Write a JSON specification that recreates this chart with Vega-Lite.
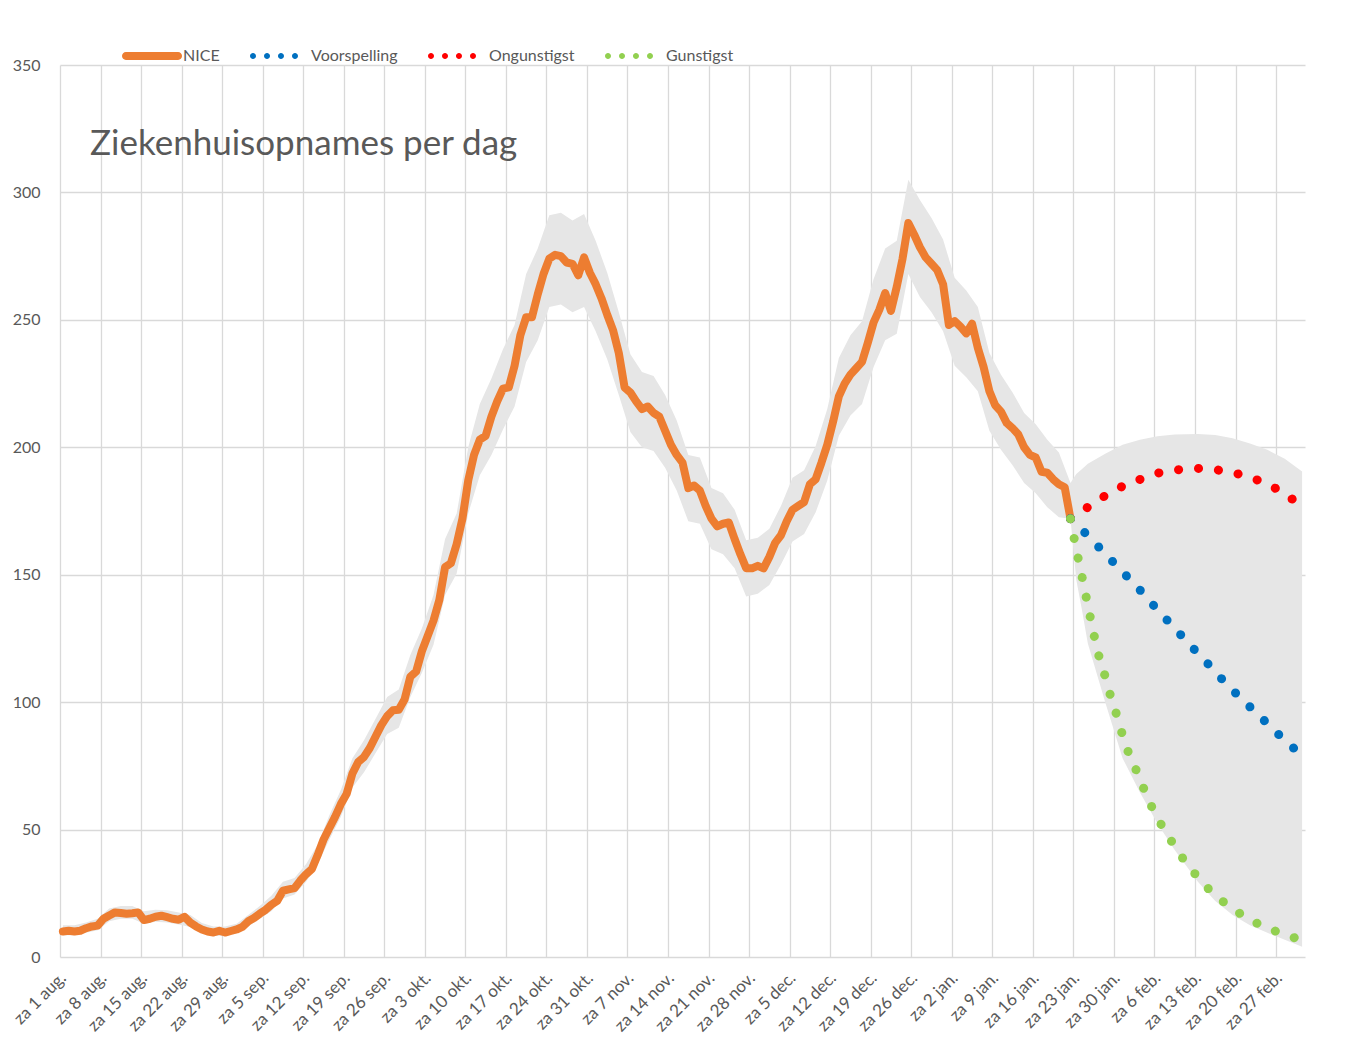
{
  "$schema": "https://vega.github.io/schema/vega-lite/v6.json",
  "width": 1245,
  "height": 892,
  "autosize": {"type": "none"},
  "padding": {"left": 60, "top": 65, "right": 47, "bottom": 95},
  "background": "white",
  "config": {
    "font": "Lato",
    "view": {"stroke": null},
    "axis": {"domain": false, "ticks": false, "gridColor": "#D9D9D9", "gridWidth": 1.3, "labelColor": "#595959", "labelFont": "Lato", "labelFontSize": 16}
  },
  "title": {"text": "Ziekenhuisopnames per dag", "anchor": "start", "frame": "group", "orient": "top", "font": "Lato", "fontSize": 35, "fontWeight": "normal", "color": "#595959", "dx": 30, "dy": 164, "offset": 0, "baseline": "alphabetic"},
  "datasets": {
    "nice": [
      {"date":"2020-08-01","value":10},{"date":"2020-08-02","value":10.3},{"date":"2020-08-03","value":10},{"date":"2020-08-04","value":10.3},{"date":"2020-08-05","value":11.3},{"date":"2020-08-06","value":12},{"date":"2020-08-07","value":12.3},{"date":"2020-08-08","value":15},{"date":"2020-08-09","value":16.3},{"date":"2020-08-10","value":17.5},{"date":"2020-08-11","value":17.3},{"date":"2020-08-12","value":17},{"date":"2020-08-13","value":17.2},{"date":"2020-08-14","value":17.5},{"date":"2020-08-15","value":14.5},{"date":"2020-08-16","value":15},{"date":"2020-08-17","value":15.8},{"date":"2020-08-18","value":16.2},{"date":"2020-08-19","value":15.6},{"date":"2020-08-20","value":15},{"date":"2020-08-21","value":14.6},{"date":"2020-08-22","value":15.8},{"date":"2020-08-23","value":13.5},{"date":"2020-08-24","value":12},{"date":"2020-08-25","value":10.8},{"date":"2020-08-26","value":10},{"date":"2020-08-27","value":9.6},{"date":"2020-08-28","value":10.3},{"date":"2020-08-29","value":9.6},{"date":"2020-08-30","value":10.2},{"date":"2020-08-31","value":10.8},
      {"date":"2020-09-01","value":11.8},{"date":"2020-09-02","value":14},{"date":"2020-09-03","value":15.3},{"date":"2020-09-04","value":17},{"date":"2020-09-05","value":18.5},{"date":"2020-09-06","value":20.5},{"date":"2020-09-07","value":22},{"date":"2020-09-08","value":26},{"date":"2020-09-09","value":26.5},{"date":"2020-09-10","value":27},{"date":"2020-09-11","value":30},{"date":"2020-09-12","value":32.5},{"date":"2020-09-13","value":34.5},{"date":"2020-09-14","value":40},{"date":"2020-09-15","value":46},{"date":"2020-09-16","value":50.5},{"date":"2020-09-17","value":55},{"date":"2020-09-18","value":60},{"date":"2020-09-19","value":64},{"date":"2020-09-20","value":72},{"date":"2020-09-21","value":76.5},{"date":"2020-09-22","value":78.5},{"date":"2020-09-23","value":82},{"date":"2020-09-24","value":86.5},{"date":"2020-09-25","value":91},{"date":"2020-09-26","value":94.5},{"date":"2020-09-27","value":96.8},{"date":"2020-09-28","value":97},{"date":"2020-09-29","value":101},{"date":"2020-09-30","value":110},
      {"date":"2020-10-01","value":112},{"date":"2020-10-02","value":120},{"date":"2020-10-03","value":126},{"date":"2020-10-04","value":132},{"date":"2020-10-05","value":140},{"date":"2020-10-06","value":153},{"date":"2020-10-07","value":154.5},{"date":"2020-10-08","value":162},{"date":"2020-10-09","value":172},{"date":"2020-10-10","value":187},{"date":"2020-10-11","value":197},{"date":"2020-10-12","value":203},{"date":"2020-10-13","value":204.5},{"date":"2020-10-14","value":212},{"date":"2020-10-15","value":218},{"date":"2020-10-16","value":223},{"date":"2020-10-17","value":223.5},{"date":"2020-10-18","value":232},{"date":"2020-10-19","value":244},{"date":"2020-10-20","value":251},{"date":"2020-10-21","value":251},{"date":"2020-10-22","value":260},{"date":"2020-10-23","value":268},{"date":"2020-10-24","value":274},{"date":"2020-10-25","value":275.5},{"date":"2020-10-26","value":275},{"date":"2020-10-27","value":272.5},{"date":"2020-10-28","value":272},{"date":"2020-10-29","value":267.5},{"date":"2020-10-30","value":274.5},{"date":"2020-10-31","value":268.5},
      {"date":"2020-11-01","value":264},{"date":"2020-11-02","value":258.5},{"date":"2020-11-03","value":252},{"date":"2020-11-04","value":246},{"date":"2020-11-05","value":237},{"date":"2020-11-06","value":223.5},{"date":"2020-11-07","value":221.5},{"date":"2020-11-08","value":218},{"date":"2020-11-09","value":215},{"date":"2020-11-10","value":216},{"date":"2020-11-11","value":213.5},{"date":"2020-11-12","value":212},{"date":"2020-11-13","value":206.5},{"date":"2020-11-14","value":201},{"date":"2020-11-15","value":197},{"date":"2020-11-16","value":194},{"date":"2020-11-17","value":184},{"date":"2020-11-18","value":185},{"date":"2020-11-19","value":183},{"date":"2020-11-20","value":177},{"date":"2020-11-21","value":172},{"date":"2020-11-22","value":169},{"date":"2020-11-23","value":170},{"date":"2020-11-24","value":170.5},{"date":"2020-11-25","value":164},{"date":"2020-11-26","value":158},{"date":"2020-11-27","value":152.5},{"date":"2020-11-28","value":152.5},{"date":"2020-11-29","value":153.5},{"date":"2020-11-30","value":152.5},
      {"date":"2020-12-01","value":157},{"date":"2020-12-02","value":162.5},{"date":"2020-12-03","value":165.5},{"date":"2020-12-04","value":171},{"date":"2020-12-05","value":175.5},{"date":"2020-12-06","value":177},{"date":"2020-12-07","value":178.5},{"date":"2020-12-08","value":185.5},{"date":"2020-12-09","value":187.5},{"date":"2020-12-10","value":194},{"date":"2020-12-11","value":201},{"date":"2020-12-12","value":210},{"date":"2020-12-13","value":220},{"date":"2020-12-14","value":225},{"date":"2020-12-15","value":228.5},{"date":"2020-12-16","value":231},{"date":"2020-12-17","value":233.5},{"date":"2020-12-18","value":241},{"date":"2020-12-19","value":249},{"date":"2020-12-20","value":254},{"date":"2020-12-21","value":260.5},{"date":"2020-12-22","value":253.5},{"date":"2020-12-23","value":263},{"date":"2020-12-24","value":274},{"date":"2020-12-25","value":288},{"date":"2020-12-26","value":283.5},{"date":"2020-12-27","value":278.5},{"date":"2020-12-28","value":274.5},{"date":"2020-12-29","value":272},{"date":"2020-12-30","value":269.5},{"date":"2020-12-31","value":264},
      {"date":"2021-01-01","value":248},{"date":"2021-01-02","value":249.5},{"date":"2021-01-03","value":247.3},{"date":"2021-01-04","value":244.7},{"date":"2021-01-05","value":248.5},{"date":"2021-01-06","value":239},{"date":"2021-01-07","value":231.5},{"date":"2021-01-08","value":222},{"date":"2021-01-09","value":216.5},{"date":"2021-01-10","value":214},{"date":"2021-01-11","value":209.5},{"date":"2021-01-12","value":207.5},{"date":"2021-01-13","value":205},{"date":"2021-01-14","value":200},{"date":"2021-01-15","value":197},{"date":"2021-01-16","value":196},{"date":"2021-01-17","value":190.4},{"date":"2021-01-18","value":190},{"date":"2021-01-19","value":187.5},{"date":"2021-01-20","value":185.5},{"date":"2021-01-21","value":184.3},{"date":"2021-01-22","value":172}
    ],
    "band": [
      {"date":"2020-08-01","lo":8.5,"hi":12.5},{"date":"2020-08-03","lo":8.5,"hi":12.5},{"date":"2020-08-05","lo":9.5,"hi":13.5},{"date":"2020-08-07","lo":10.5,"hi":15},{"date":"2020-08-09","lo":14,"hi":19},{"date":"2020-08-11","lo":15,"hi":20},{"date":"2020-08-13","lo":15,"hi":20},{"date":"2020-08-15","lo":13,"hi":18},{"date":"2020-08-17","lo":13.8,"hi":18.5},{"date":"2020-08-19","lo":13.5,"hi":18.3},{"date":"2020-08-21","lo":12.8,"hi":17.5},{"date":"2020-08-23","lo":11.8,"hi":16.5},{"date":"2020-08-25","lo":9.3,"hi":13.3},{"date":"2020-08-27","lo":8.2,"hi":12},{"date":"2020-08-29","lo":8.2,"hi":12},{"date":"2020-08-31","lo":9.2,"hi":13},
      {"date":"2020-09-02","lo":12,"hi":16.5},{"date":"2020-09-04","lo":15,"hi":20},{"date":"2020-09-06","lo":18,"hi":24},{"date":"2020-09-08","lo":23,"hi":29.5},{"date":"2020-09-10","lo":24.5,"hi":31},{"date":"2020-09-12","lo":29.5,"hi":36.5},{"date":"2020-09-14","lo":36.5,"hi":44},{"date":"2020-09-16","lo":46,"hi":55.5},{"date":"2020-09-18","lo":55,"hi":65.5},{"date":"2020-09-20","lo":66.5,"hi":78},{"date":"2020-09-22","lo":72.5,"hi":85},{"date":"2020-09-24","lo":80,"hi":93.5},{"date":"2020-09-26","lo":87.5,"hi":102},{"date":"2020-09-28","lo":90,"hi":105},{"date":"2020-09-30","lo":102,"hi":118.5},
      {"date":"2020-10-02","lo":111.5,"hi":129},{"date":"2020-10-04","lo":122.5,"hi":142},{"date":"2020-10-06","lo":142,"hi":164},{"date":"2020-10-08","lo":150.5,"hi":174},{"date":"2020-10-10","lo":174,"hi":200},{"date":"2020-10-12","lo":189,"hi":217},{"date":"2020-10-14","lo":197,"hi":227},{"date":"2020-10-16","lo":207,"hi":238.5},{"date":"2020-10-18","lo":216,"hi":248},{"date":"2020-10-20","lo":233.5,"hi":268},{"date":"2020-10-22","lo":242,"hi":278},{"date":"2020-10-24","lo":255,"hi":291},{"date":"2020-10-26","lo":256,"hi":292},{"date":"2020-10-28","lo":253,"hi":289},{"date":"2020-10-30","lo":255,"hi":291.5},
      {"date":"2020-11-01","lo":245.5,"hi":281},{"date":"2020-11-03","lo":234.5,"hi":268.5},{"date":"2020-11-05","lo":220.5,"hi":253},{"date":"2020-11-07","lo":206,"hi":236.5},{"date":"2020-11-09","lo":200,"hi":229.5},{"date":"2020-11-11","lo":198.5,"hi":228},{"date":"2020-11-13","lo":192,"hi":220.5},{"date":"2020-11-15","lo":183,"hi":210.5},{"date":"2020-11-17","lo":171,"hi":197},{"date":"2020-11-19","lo":170,"hi":196},{"date":"2020-11-21","lo":160,"hi":184},{"date":"2020-11-23","lo":158,"hi":182},{"date":"2020-11-25","lo":152.5,"hi":175.5},{"date":"2020-11-27","lo":141.5,"hi":163.5},{"date":"2020-11-29","lo":142.5,"hi":164.5},
      {"date":"2020-12-01","lo":146,"hi":168},{"date":"2020-12-03","lo":154,"hi":177},{"date":"2020-12-05","lo":163,"hi":188},{"date":"2020-12-07","lo":166,"hi":191},{"date":"2020-12-09","lo":174.5,"hi":200.5},{"date":"2020-12-11","lo":187,"hi":215},{"date":"2020-12-13","lo":204.5,"hi":235},{"date":"2020-12-15","lo":212.5,"hi":244},{"date":"2020-12-17","lo":217,"hi":249.5},{"date":"2020-12-19","lo":231.5,"hi":266},{"date":"2020-12-21","lo":242,"hi":278},{"date":"2020-12-23","lo":244.5,"hi":281},{"date":"2020-12-25","lo":268,"hi":305},{"date":"2020-12-27","lo":259,"hi":297},{"date":"2020-12-29","lo":253,"hi":290},{"date":"2020-12-31","lo":245.5,"hi":281.5},
      {"date":"2021-01-02","lo":232,"hi":266.5},{"date":"2021-01-04","lo":227.5,"hi":261.5},{"date":"2021-01-06","lo":222,"hi":255},{"date":"2021-01-08","lo":206.5,"hi":237},{"date":"2021-01-10","lo":199,"hi":228.5},{"date":"2021-01-12","lo":193,"hi":221.5},{"date":"2021-01-14","lo":186,"hi":213.5},{"date":"2021-01-16","lo":182,"hi":209},{"date":"2021-01-18","lo":176.5,"hi":203},{"date":"2021-01-20","lo":172.5,"hi":198},{"date":"2021-01-22","lo":172,"hi":186},{"date":"2021-01-23","lo":148,"hi":189.5},{"date":"2021-01-24","lo":136,"hi":191.5},{"date":"2021-01-25","lo":123,"hi":193.5},{"date":"2021-01-28","lo":100,"hi":197.5},{"date":"2021-01-31","lo":78,"hi":201},
      {"date":"2021-02-03","lo":64.5,"hi":203},{"date":"2021-02-06","lo":52.5,"hi":204.3},{"date":"2021-02-09","lo":42,"hi":205},{"date":"2021-02-13","lo":29.5,"hi":205.2},{"date":"2021-02-16","lo":22,"hi":204.8},{"date":"2021-02-19","lo":16.5,"hi":203.5},{"date":"2021-02-22","lo":12.5,"hi":201.5},{"date":"2021-02-25","lo":9.5,"hi":199},{"date":"2021-02-28","lo":6.8,"hi":195.5},{"date":"2021-03-03","lo":4,"hi":190.5}
    ],
    "fc": [
      {"date":"2021-01-22","serie":"Ongunstigst","value":172},{"date":"2021-01-25","serie":"Ongunstigst","value":176.5},{"date":"2021-01-28","serie":"Ongunstigst","value":181},{"date":"2021-01-31","serie":"Ongunstigst","value":184.7},{"date":"2021-02-03","serie":"Ongunstigst","value":187.4},{"date":"2021-02-06","serie":"Ongunstigst","value":189.8},{"date":"2021-02-09","serie":"Ongunstigst","value":191},{"date":"2021-02-13","serie":"Ongunstigst","value":191.7},{"date":"2021-02-16","serie":"Ongunstigst","value":191.2},{"date":"2021-02-20","serie":"Ongunstigst","value":189.5},{"date":"2021-02-23","serie":"Ongunstigst","value":187.4},{"date":"2021-02-26","serie":"Ongunstigst","value":184.4},{"date":"2021-03-01","serie":"Ongunstigst","value":180.1},{"date":"2021-03-03","serie":"Ongunstigst","value":177},
      {"date":"2021-01-22","serie":"Voorspelling","value":172},{"date":"2021-01-25","serie":"Voorspelling","value":165.3},{"date":"2021-01-28","serie":"Voorspelling","value":158.2},{"date":"2021-01-31","serie":"Voorspelling","value":151.1},{"date":"2021-02-03","serie":"Voorspelling","value":144},{"date":"2021-02-06","serie":"Voorspelling","value":136.3},{"date":"2021-02-09","serie":"Voorspelling","value":129},{"date":"2021-02-12","serie":"Voorspelling","value":121.6},{"date":"2021-02-15","serie":"Voorspelling","value":114.4},{"date":"2021-02-18","serie":"Voorspelling","value":107},{"date":"2021-02-21","serie":"Voorspelling","value":100.3},{"date":"2021-02-24","serie":"Voorspelling","value":93.8},{"date":"2021-02-27","serie":"Voorspelling","value":87.2},{"date":"2021-03-03","serie":"Voorspelling","value":79},
      {"date":"2021-01-22","serie":"Gunstigst","value":172},{"date":"2021-01-23","serie":"Gunstigst","value":160},{"date":"2021-01-24","serie":"Gunstigst","value":149.2},{"date":"2021-01-25","serie":"Gunstigst","value":138},{"date":"2021-01-26","serie":"Gunstigst","value":127},{"date":"2021-01-27","serie":"Gunstigst","value":117.3},{"date":"2021-01-28","serie":"Gunstigst","value":110},{"date":"2021-01-29","serie":"Gunstigst","value":101.8},{"date":"2021-01-30","serie":"Gunstigst","value":94.8},{"date":"2021-01-31","serie":"Gunstigst","value":87},{"date":"2021-02-01","serie":"Gunstigst","value":80.3},{"date":"2021-02-02","serie":"Gunstigst","value":75.2},{"date":"2021-02-03","serie":"Gunstigst","value":69.7},{"date":"2021-02-04","serie":"Gunstigst","value":64.2},{"date":"2021-02-05","serie":"Gunstigst","value":59.1},{"date":"2021-02-06","serie":"Gunstigst","value":54.8},{"date":"2021-02-07","serie":"Gunstigst","value":50.6},{"date":"2021-02-08","serie":"Gunstigst","value":47},{"date":"2021-02-09","serie":"Gunstigst","value":43.5},{"date":"2021-02-10","serie":"Gunstigst","value":40},{"date":"2021-02-11","serie":"Gunstigst","value":36.9},{"date":"2021-02-12","serie":"Gunstigst","value":34},{"date":"2021-02-13","serie":"Gunstigst","value":31.3},{"date":"2021-02-14","serie":"Gunstigst","value":28.6},{"date":"2021-02-15","serie":"Gunstigst","value":26.4},{"date":"2021-02-16","serie":"Gunstigst","value":24.3},{"date":"2021-02-17","serie":"Gunstigst","value":22.4},{"date":"2021-02-19","serie":"Gunstigst","value":19},{"date":"2021-02-21","serie":"Gunstigst","value":16},{"date":"2021-02-23","serie":"Gunstigst","value":13.5},{"date":"2021-02-25","serie":"Gunstigst","value":11.5},{"date":"2021-02-27","serie":"Gunstigst","value":9.6},{"date":"2021-03-01","serie":"Gunstigst","value":8},{"date":"2021-03-03","serie":"Gunstigst","value":6.8}
    ]
  },
  "layer": [
    {
      "data": {"name": "band"},
      "mark": {"type": "area", "color": "#E6E6E6", "opacity": 1},
      "encoding": {
        "x": {"field": "date", "type": "temporal", "title": null,
          "scale": {"type": "utc", "domain": [1596196800000, 1614772800000], "nice": false},
          "axis": {"values": [1596196800000,1596801600000,1597406400000,1598011200000,1598616000000,1599220800000,1599825600000,1600430400000,1601035200000,1601640000000,1602244800000,1602849600000,1603454400000,1604059200000,1604664000000,1605268800000,1605873600000,1606478400000,1607083200000,1607688000000,1608292800000,1608897600000,1609502400000,1610107200000,1610712000000,1611316800000,1611921600000,1612526400000,1613131200000,1613736000000,1614340800000],
            "labelExpr": "'za ' + utcdate(time(datum.value) + 43200000) + ' ' + ['jan','feb','mrt','apr','mei','jun','jul','aug','sep','okt','nov','dec'][utcmonth(time(datum.value) + 43200000)] + '.'",
            "labelAngle": -45, "labelAlign": "right", "labelBaseline": "middle", "labelFontSize": 17, "labelPadding": 18, "labelOffset": 3, "labelOverlap": false, "labelBound": false, "labelFlush": false, "grid": true}},
        "y": {"field": "lo", "type": "quantitative", "title": null,
          "scale": {"domain": [0, 350], "nice": false},
          "axis": {"values": [0,50,100,150,200,250,300,350], "labelPadding": 20, "grid": true}},
        "y2": {"field": "hi"}
      }
    },
    {
      "data": {"name": "nice"},
      "mark": {"type": "line", "color": "#ED7D31", "strokeWidth": 8, "strokeCap": "round", "strokeJoin": "round"},
      "encoding": {
        "x": {"field": "date", "type": "temporal", "title": null},
        "y": {"field": "value", "type": "quantitative", "title": null}
      }
    },
    {
      "data": {"name": "fc"},
      "mark": {"type": "line", "strokeWidth": 9, "strokeCap": "round", "strokeDash": [0.1, 19.9], "interpolate": "monotone"},
      "encoding": {
        "x": {"field": "date", "type": "temporal", "title": null},
        "y": {"field": "value", "type": "quantitative", "title": null},
        "color": {"field": "serie", "type": "nominal",
          "scale": {"domain": ["NICE", "Voorspelling", "Ongunstigst", "Gunstigst"], "range": ["#ED7D31", "#0070C0", "#FF0000", "#92D050"]},
          "legend": {"orient": "none", "legendX": 62, "legendY": -39, "direction": "horizontal", "title": null, "symbolSize": 3600, "labelFontSize": 16, "labelColor": "#595959", "labelFont": "Lato", "labelOffset": 1, "columnPadding": 30, "padding": 0,
            "encode": {"symbols": {"update": {
              "shape": {"signal": "datum.value === 'NICE' ? 'M-0.87,-0.13 L0.87,-0.13 A0.13,0.13 0 0 1 0.87,0.13 L-0.87,0.13 A0.13,0.13 0 0 1 -0.87,-0.13 Z' : 'M-1,0 A0.1,0.1 0 1 0 -0.8,0 A0.1,0.1 0 1 0 -1,0 Z M-0.533,0 A0.1,0.1 0 1 0 -0.333,0 A0.1,0.1 0 1 0 -0.533,0 Z M-0.067,0 A0.1,0.1 0 1 0 0.133,0 A0.1,0.1 0 1 0 -0.067,0 Z M0.4,0 A0.1,0.1 0 1 0 0.6,0 A0.1,0.1 0 1 0 0.4,0 Z'"},
              "fill": {"signal": "scale('color', datum.value)"},
              "stroke": {"value": "transparent"},
              "strokeWidth": {"value": 0},
              "strokeDash": {"value": []},
              "opacity": {"value": 1},
              "size": {"value": 3600}
            }}}
          }
        }
      }
    }
  ]
}
